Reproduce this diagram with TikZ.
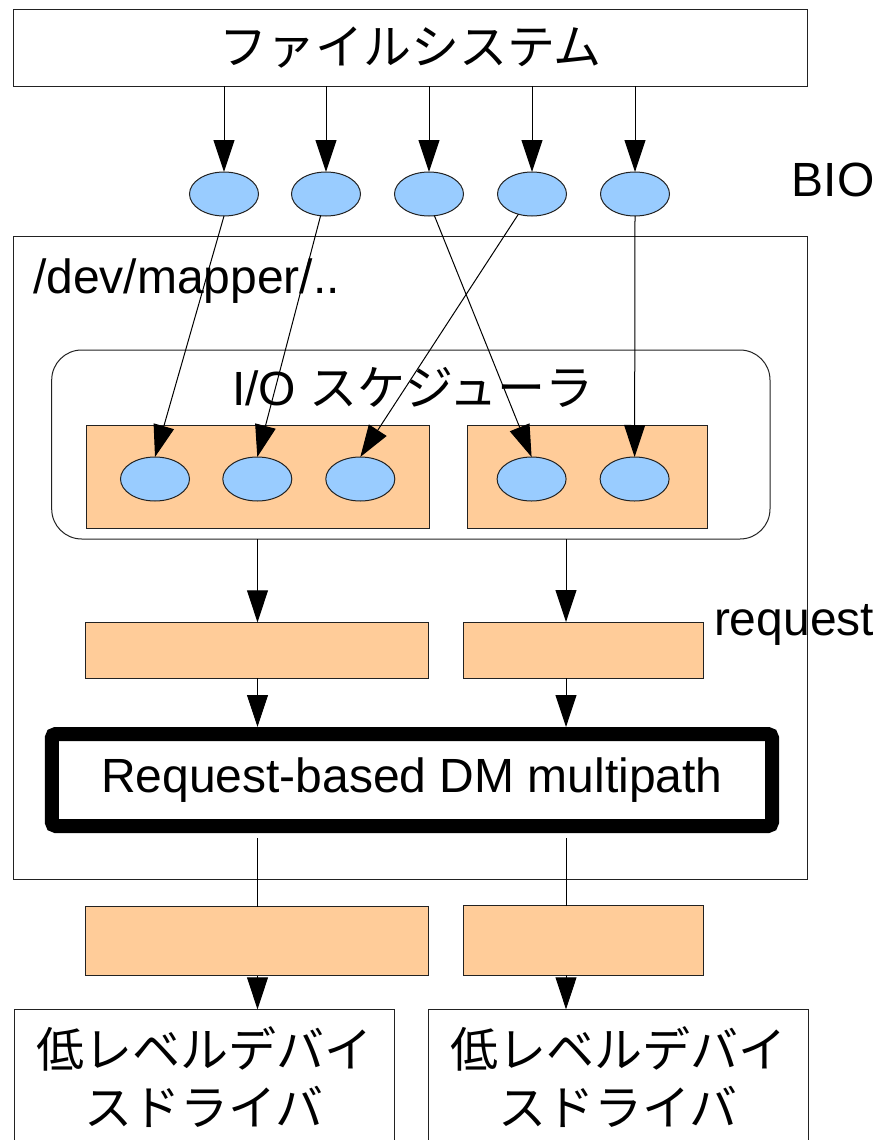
\documentclass[tikz,border=0pt]{standalone}
\usepackage{fontspec}
\setmainfont{Liberation Sans}
\newfontfamily\jp{Noto Sans CJK JP}
\usetikzlibrary{arrows.meta,shapes.geometric,calc}
\definecolor{bioblue}{HTML}{99CCFF}
\definecolor{reqorange}{HTML}{FFCC99}
\definecolor{edge}{HTML}{222222}
\begin{document}
\begin{tikzpicture}[x=1pt,y=-1pt,line width=1pt,
  every node/.style={inner sep=0pt,outer sep=0pt},
  txt/.style={font=\fontsize{48}{58}\selectfont},
  plainbox/.style={draw=edge,fill=white,rectangle},
  reqbox/.style={draw=edge,fill=reqorange,rectangle},
  bio/.style={draw=edge,fill=bioblue,ellipse,minimum width=69pt,minimum height=44pt},
  arr/.style={draw=black,-{Triangle[length=32pt,width=21pt]}},
  link/.style={draw=black}]

\useasboundingbox (0,0) rectangle (877,1140);
\clip (0,0) rectangle (877,1140);

% file system layer
\node[plainbox,txt,minimum width=794pt,minimum height=76pt] (fs) at (410.5,48) {\jp ファイルシステム};
\node[txt] (biolabel) at (833,180) {BIO};

% BIOs handed down by the file system
\foreach \i/\x in {1/224,2/326,3/429,4/532,5/635}
  \node[bio] (e\i) at (\x,194) {};

% device-mapper device
\node[plainbox,minimum width=794.4pt,minimum height=643pt] (mapper) at (410.5,557.5) {};
\node[txt,anchor=base west] (mapperlabel) at (33,293) {/dev/mapper/..};

% I/O scheduler with its two queues
\node[plainbox,rounded corners=30pt,minimum width=718.3pt,minimum height=189pt] (sched) at (410.85,444.5) {};
\node[txt,anchor=base] (schedlabel) at (413,405) {I/O {\jp スケジューラ}};
\node[reqbox,minimum width=342.6pt,minimum height=102.3pt] (q1) at (258,476.85) {};
\node[reqbox,minimum width=239.8pt,minimum height=102.3pt] (q2) at (587.6,476.85) {};
\foreach \i/\x in {1/155,2/257.3,3/360.3,4/531.6,5/634.6}
  \node[bio] (s\i) at (\x,479) {};

% requests
\node[reqbox,minimum width=343pt,minimum height=56pt] (r1) at (257.1,650.3) {};
\node[reqbox,minimum width=240.4pt,minimum height=56pt] (r2) at (583.2,650) {};
\node[txt,anchor=base west] (reqlabel) at (714,635) {request};

% multipath target
\node[draw=black,fill=white,line width=14pt,rounded corners=4pt,outer sep=7pt,
      minimum width=720.2pt,minimum height=92pt,txt] (dm) at (411.9,780) {Request-based DM multipath};

% cloned requests
\node[reqbox,minimum width=343pt,minimum height=69pt] (o1) at (257.1,941.2) {};
\node[reqbox,minimum width=240.1pt,minimum height=69.8pt] (o2) at (583.35,940.4) {};

% low-level drivers
\node[plainbox,txt,align=center,minimum width=380.5pt,minimum height=135.7pt] (d1) at (204.25,1077.15) {\jp 低レベルデバイ\\\jp スドライバ};
\node[plainbox,txt,align=center,minimum width=379.3pt,minimum height=135.7pt] (d2) at (618.35,1077.15) {\jp 低レベルデバイ\\\jp スドライバ};

% columns of the two request paths
\coordinate (c1) at (257.5,0);
\coordinate (c2) at (566,0);

% file system -> BIOs
\foreach \i in {1,...,5}
  \draw[arr] (e\i.north |- fs.south) -- (e\i.north);

% BIOs -> scheduler queues
\draw[arr] (e1.south) -- (s1.north);
\draw[arr] (e2.256) -- (s2.north);
\draw[arr] (e3.284) -- (s4.north);
\draw[arr] (e4.236) -- (s3.north);
\draw[arr] (e5.south) -- (s5.north);

% scheduler -> requests -> multipath
\draw[arr] (c1 |- sched.south) -- (c1 |- r1.north);
\draw[arr] (c2 |- sched.south) -- (c2 |- r2.north);
\draw[arr] (c1 |- r1.south) -- (c1 |- dm.north);
\draw[arr] (c2 |- r2.south) -- (c2 |- dm.north);

% multipath -> cloned requests -> drivers
\draw[link] ([yshift=-5pt]dm.south -| c1) -- (c1 |- o1.north);
\draw[link] ([yshift=-5pt]dm.south -| c2) -- (c2 |- o2.north);
\draw[arr] (c1 |- o1.south) -- (c1 |- d1.north);
\draw[arr] (c2 |- o2.south) -- (c2 |- d2.north);
\end{tikzpicture}
\end{document}
